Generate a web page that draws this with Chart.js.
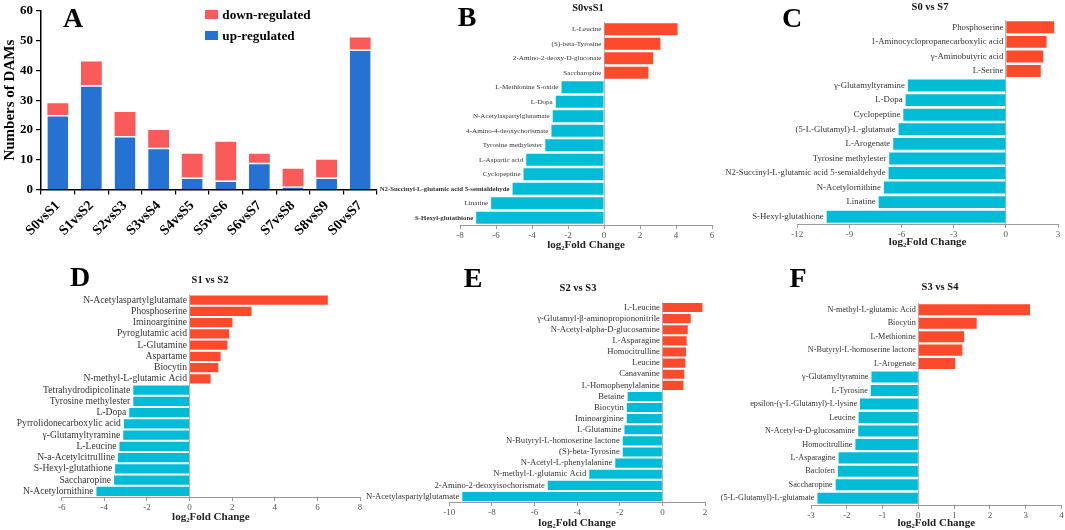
<!DOCTYPE html>
<html><head><meta charset="utf-8">
<script src="https://cdn.jsdelivr.net/npm/chart.js@4/dist/chart.umd.min.js"></script>
<style>
html,body{margin:0;padding:0;background:#fff;width:1065px;height:530px;overflow:hidden;position:relative;font-family:"Liberation Serif","Times New Roman",serif;}
canvas{position:absolute;}
.letter{position:absolute;font-weight:bold;font-size:28px;line-height:1;transform:translate(-50%,-50%);color:#000;}
.ptitle{position:absolute;font-weight:bold;font-size:10.5px;line-height:1;transform:translate(-50%,-50%);white-space:nowrap;color:#111;}
.leg{position:absolute;font-weight:bold;font-size:13.2px;line-height:1;white-space:nowrap;color:#000;}
.leg span{display:inline-block;width:13px;height:9px;margin-right:1px;vertical-align:middle;position:relative;top:-1px;}
</style></head><body>
<canvas id="cA" width="400" height="260" style="left:0;top:0"></canvas>
<canvas id="cB" width="345" height="260" style="left:375px;top:0"></canvas>
<canvas id="cC" width="350" height="260" style="left:715px;top:0"></canvas>
<canvas id="cD" width="370" height="270" style="left:0;top:260px"></canvas>
<canvas id="cE" width="348" height="270" style="left:362px;top:260px"></canvas>
<canvas id="cF" width="355" height="270" style="left:710px;top:260px"></canvas>

<div class="letter" style="left:73px;top:18px">A</div>
<div class="letter" style="left:467px;top:17px">B</div>
<div class="letter" style="left:792px;top:18px">C</div>
<div class="letter" style="left:80px;top:277px">D</div>
<div class="letter" style="left:473px;top:278px">E</div>
<div class="letter" style="left:798px;top:278px">F</div>

<div class="ptitle" style="left:588px;top:8px">S0vsS1</div>
<div class="ptitle" style="left:930px;top:7px">S0 vs S7</div>
<div class="ptitle" style="left:210px;top:280px">S1 vs S2</div>
<div class="ptitle" style="left:578px;top:288px">S2 vs S3</div>
<div class="ptitle" style="left:940px;top:287px">S3 vs S4</div>

<div class="leg" style="left:205px;top:8px"><span style="background:#fa5a5a"></span> down-regulated</div>
<div class="leg" style="left:205px;top:29px"><span style="background:#2672d2"></span> up-regulated</div>

<script>
// ---------- Panel A data ----------
const aCategories = ['S0vsS1','S1vsS2','S2vsS3','S3vsS4','S4vsS5','S5vsS6','S6vsS7','S7vsS8','S8vsS9','S0vsS7'];
const aUp   = [25, 35, 18, 14, 4, 3, 9, 1, 4, 47];
const aDown = [4, 8, 8, 6, 8, 13, 3, 6, 6, 4];

// ---------- Panel B (S0vsS1) ----------
const bLabels = ['L-Leucine','(S)-beta-Tyrosine','2-Amino-2-deoxy-D-gluconate','Saccharopine','L-Methionine S-oxide','L-Dopa','N-Acetylaspartylglutamate','4-Amino-4-deoxychorismate','Tyrosine methylester','L-Aspartic acid','Cyclopeptine','N2-Succinyl-L-glutamic acid 5-semialdehyde','Linatine','S-Hexyl-glutathione'];
const bValues = [4.09, 3.13, 2.73, 2.47, -2.36, -2.68, -2.85, -2.92, -3.26, -4.32, -4.47, -5.08, -6.27, -7.1];

// ---------- Panel C (S0 vs S7) ----------
const cLabels = ['Phosphoserine','1-Aminocyclopropanecarboxylic acid','γ-Aminobutyric acid','L-Serine','γ-Glutamyltyramine','L-Dopa','Cyclopeptine','(5-L-Glutamyl)-L-glutamate','L-Arogenate','Tyrosine methylester','N2-Succinyl-L-glutamic acid 5-semialdehyde','N-Acetylornithine','Linatine','S-Hexyl-glutathione'];
const cValues = [2.78, 2.34, 2.15, 2.01, -5.64, -5.77, -5.9, -6.17, -6.48, -6.71, -6.75, -7.02, -7.32, -10.31];

// ---------- Panel D (S1 vs S2) ----------
const dLabels = ['N-Acetylaspartylglutamate','Phosphoserine','Iminoarginine','Pyroglutamic acid','L-Glutamine','Aspartame','Biocytin','N-methyl-L-glutamic Acid','Tetrahydrodipicolinate','Tyrosine methylester','L-Dopa','Pyrrolidonecarboxylic acid','γ-Glutamyltyramine','L-Leucine','N-a-Acetylcitrulline','S-Hexyl-glutathione','Saccharopine','N-Acetylornithine'];
const dValues = [6.49, 2.91, 2.01, 1.86, 1.78, 1.46, 1.35, 0.99, -2.64, -2.64, -2.83, -3.08, -3.11, -3.29, -3.36, -3.49, -3.54, -4.37];

// ---------- Panel E (S2 vs S3) ----------
const eLabels = ['L-Leucine','γ-Glutamyl-β-aminopropiononitrile','N-Acetyl-alpha-D-glucosamine','L-Asparagine','Homocitrulline','Leucine','Canavanine','L-Homophenylalanine','Betaine','Biocytin','Iminoarginine','L-Glutamine','N-Butyryl-L-homoserine lactone','(S)-beta-Tyrosine','N-Acetyl-L-phenylalanine','N-methyl-L-glutamic Acid','2-Amino-2-deoxyisochorismate','N-Acetylaspartylglutamate'];
const eValues = [1.88, 1.33, 1.19, 1.14, 1.11, 1.08, 1.03, 0.99, -1.63, -1.67, -1.67, -1.78, -1.86, -1.86, -2.21, -3.43, -5.38, -9.39];

// ---------- Panel F (S3 vs S4) ----------
const fLabels = ['N-methyl-L-glutamic Acid','Biocytin','L-Methionine','N-Butyryl-L-homoserine lactone','L-Arogenate','γ-Glutamyltyramine','L-Tyrosine','epsilon-(γ-L-Glutamyl)-L-lysine','Leucine','N-Acetyl-α-D-glucosamine','Homocitrulline','L-Asparagine','Baclofen','Saccharopine','(5-L-Glutamyl)-L-glutamate'];
const fValues = [3.12, 1.63, 1.28, 1.23, 1.03, -1.31, -1.33, -1.63, -1.67, -1.68, -1.76, -2.23, -2.25, -2.31, -2.82];

const SERIF = '"Liberation Serif", "Times New Roman", serif';
Chart.defaults.font.family = SERIF;
const RED = '#fd4a2c', CYAN = '#00bcd6';

// ---------- Panel A chart ----------
new Chart(document.getElementById('cA'), {
  type: 'bar',
  data: {
    labels: aCategories,
    datasets: [
      {label:'up-regulated', data:aUp, backgroundColor:'#2672d2', borderColor:'#ffffff', borderWidth:{top:1.5,left:0,right:0,bottom:0}, barPercentage:0.62, categoryPercentage:1},
      {label:'down-regulated', data:aDown, backgroundColor:'#fa5a5a', borderWidth:0, barPercentage:0.62, categoryPercentage:1}
    ]
  },
  options: {
    responsive:false, animation:false,
    layout:{padding:{left:0, right:23, top:10, bottom:0}},
    plugins:{legend:{display:false}, tooltip:{enabled:false}},
    scales:{
      x:{stacked:true,
         grid:{display:true, drawOnChartArea:false, color:'#000', tickLength:5, offset:true, lineWidth:1.2},
         border:{color:'#000', width:1.5},
         ticks:{font:{size:14, weight:'bold'}, color:'#000', minRotation:45, maxRotation:45, autoSkip:false, padding:3},
         afterFit: s => { s.height = 70.5; }},
      y:{stacked:true, min:0, max:60,
         ticks:{stepSize:10, font:{size:13, weight:'bold'}, color:'#000', padding:3},
         grid:{drawOnChartArea:false, color:'#000', tickLength:5, lineWidth:1.2},
         border:{color:'#000', width:1.5},
         title:{display:true, text:'Numbers of DAMs', font:{size:15, weight:'bold'}, color:'#000', padding:{top:1,bottom:0}},
         afterFit: s => { s.width = 41; }}
    }
  }
});

// ---------- label plugin for the log2FC panels ----------
const barLabelPlugin = {
  id:'barLabels',
  afterDatasetsDraw(chart, args, opts){
    const meta = chart.getDatasetMeta(0);
    const ctx = chart.ctx;
    ctx.save();
    ctx.textAlign = 'right'; ctx.textBaseline = 'middle'; ctx.fillStyle = '#333';
    meta.data.forEach((bar, i) => {
      const left = Math.min(bar.x, bar.base);
      const st = (opts.styles && opts.styles[i]) || {};
      const size = st.size || opts.size;
      ctx.font = (st.bold ? 'bold ' : '') + size + 'px ' + SERIF;
      ctx.fillText(chart.data.labels[i], left - 3, bar.y);
    });
    ctx.restore();
  }
};

function makePanel(id, labels, values, cfg){
  new Chart(document.getElementById(id), {
    type:'bar',
    data:{labels:labels, datasets:[{data:values, backgroundColor: c => (c.raw >= 0 ? RED : CYAN), borderWidth:0, barPercentage:0.82, categoryPercentage:1}]},
    options:{
      indexAxis:'y', responsive:false, animation:false,
      layout:{padding:{left:cfg.pl, right:cfg.pr, top:cfg.pt, bottom:cfg.pb}},
      plugins:{legend:{display:false}, tooltip:{enabled:false}, barLabels:{size:cfg.fs, styles:cfg.styles||{}}},
      scales:{
        y:{display:false},
        x:{min:cfg.min, max:cfg.max,
           ticks:{stepSize:cfg.step, font:{size:9}, color:'#555', padding:1},
           grid:{color: c => (c.tick && c.tick.value === 0 ? '#b5b5b5' : 'rgba(0,0,0,0)'), tickColor:'#999', tickLength:4},
           border:{display:true, color:'#999'},
           title:{display:true, text:'log₂Fold Change', font:{size:11, weight:'bold'}, color:'#222', padding:0},
           afterFit: s => { s.height = cfg.xh; }}
      }
    },
    plugins:[barLabelPlugin]
  });
}

makePanel('cB', bLabels, bValues, {min:-8, max:6, step:2, pl:85, pr:8, pt:22, pb:8.4, xh:26.6, fs:7.1, styles:{11:{bold:true,size:6.8}, 13:{bold:true,size:6.8}}});
makePanel('cC', cLabels, cValues, {min:-12, max:3, step:3, pl:82.3, pr:7, pt:20, pb:11, xh:25, fs:8.75});
makePanel('cD', dLabels, dValues, {min:-6, max:8, step:2, pl:61.7, pr:10, pt:34.5, pb:6, xh:27, fs:9.6});
makePanel('cE', eLabels, eValues, {min:-10, max:2, step:2, pl:87.3, pr:5, pt:42, pb:0, xh:28, fs:8.65});
makePanel('cF', fLabels, fValues, {min:-3, max:4, step:1, pl:101, pr:3.5, pt:43, pb:0, xh:25, fs:8.2});
</script>
</body></html>
